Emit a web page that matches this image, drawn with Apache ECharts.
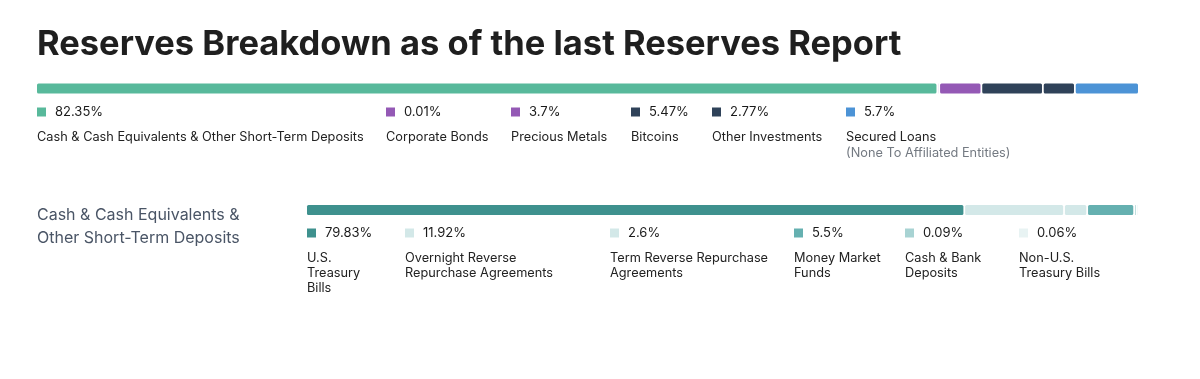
<!DOCTYPE html>
<html>
<head>
<meta charset="utf-8">
<script src="https://cdn.jsdelivr.net/npm/echarts@6/dist/echarts.min.js"></script>
<style>
html,body{margin:0;padding:0;background:#fff;}
#chart{width:1200px;height:379px;}
</style>
</head>
<body>
<div id="chart"></div>
<script>
// ---- data ----
const titleText = 'Reserves Breakdown as of the last Reserves Report';
const topCategories = ['Cash & Cash Equivalents & Other Short-Term Deposits', 'Corporate Bonds', 'Precious Metals', 'Bitcoins', 'Other Investments', 'Secured Loans'];
const topLabels = ['Cash & Cash Equivalents & Other Short-Term Deposits', 'Corporate Bonds', 'Precious Metals', 'Bitcoins', 'Other Investments', 'Secured Loans'];
const topSubLabels = ['', '', '', '', '', '(None To Affiliated Entities)'];
const topValues = [82.35, 0.01, 3.7, 5.47, 2.77, 5.7];

const subTitle = 'Cash & Cash Equivalents &\nOther Short-Term Deposits';
const subCategories = ['U.S. Treasury Bills', 'Overnight Reverse Repurchase Agreements', 'Term Reverse Repurchase Agreements', 'Money Market Funds', 'Cash & Bank Deposits', 'Non-U.S. Treasury Bills'];
const subLabels = ['U.S.\nTreasury\nBills', 'Overnight Reverse\nRepurchase Agreements', 'Term Reverse Repurchase\nAgreements', 'Money Market\nFunds', 'Cash & Bank\nDeposits', 'Non-U.S.\nTreasury Bills'];
const subValues = [79.83, 11.92, 2.6, 5.5, 0.09, 0.06];

// ---- styles / layout ----
const topColors = ['#58b99b', '#9459b5', '#9459b5', '#2f4259', '#2f4259', '#4c93d6'];
const subColors = ['#3e918e', '#d3e8e8', '#d3e8e8', '#65b0b0', '#a8d3d3', '#e8f3f3'];
const topLegendX = [37, 386, 511, 631, 712, 846];
const subLegendX = [307, 405, 610, 794, 905, 1019];
const FONT = 'Inter, "Noto Sans", sans-serif';
const BAR_H = 10, GAP = 1.75;

const chart = echarts.init(document.getElementById('chart'), null, {renderer: 'canvas'});

function sum(a){return a.reduce((s,v)=>s+v,0);}

// each segment is shifted right by the gaps that precede it
function makeRender(idx){
  return function(params, api){
    const p0 = api.coord([api.value(0), 0]);
    const p1 = api.coord([api.value(1), 0]);
    const w = Math.max(p1[0] - p0[0], 0);
    return {
      type: 'rect',
      shape: {x: p0[0] + idx * GAP, y: p0[1] - BAR_H / 2, width: w, height: BAR_H, r: 1.5},
      style: {fill: api.visual('color')}
    };
  };
}

function segSeries(cats, vals, colors, axisIdx){
  let acc = 0;
  return cats.map((c,i)=>{
    const start = acc; acc += vals[i];
    return {
      name: c,
      type: 'custom',
      xAxisIndex: axisIdx,
      yAxisIndex: axisIdx,
      renderItem: makeRender(i),
      encode: {x: [0, 1], y: 2},
      data: [[start, acc, 0]],
      itemStyle: {color: colors[i]},
      silent: true
    };
  });
}

const legendText = {fontFamily: FONT, fontSize: 13, color: '#1a1a1a', padding: [0,0,0,4], lineHeight: 14};
const legends = [];
topCategories.forEach((c,i)=>{
  legends.push({
    data: [c], left: topLegendX[i], top: 105, padding: 0,
    icon: 'rect', itemWidth: 9, itemHeight: 9, selectedMode: false,
    itemStyle: {borderWidth: 0, color: topColors[i]},
    formatter: () => topValues[i] + '%',
    textStyle: legendText
  });
});
subCategories.forEach((c,i)=>{
  legends.push({
    data: [c], left: subLegendX[i], top: 226, padding: 0,
    icon: 'rect', itemWidth: 9, itemHeight: 9, selectedMode: false,
    itemStyle: {borderWidth: 0, color: subColors[i]},
    formatter: () => subValues[i] + '%',
    textStyle: legendText
  });
});

const graphics = [
  {type: 'text', left: 37, top: 27, style: {text: titleText, font: 'bold 34.5px ' + FONT, fill: '#1f1f1f'}},
  {type: 'text', left: 37, top: 204, style: {text: subTitle, font: '16px ' + FONT, fill: '#4a5566', lineHeight: 23}}
];
topLabels.forEach((t,i)=>{
  graphics.push({type: 'text', left: topLegendX[i], top: 129, style: {text: t, font: '12.75px ' + FONT, fill: '#222222', lineHeight: 16}});
  if (topSubLabels[i]) {
    graphics.push({type: 'text', left: topLegendX[i], top: 145, style: {text: topSubLabels[i], font: '12.75px ' + FONT, fill: '#747a82', lineHeight: 16}});
  }
});
subLabels.forEach((t,i)=>{
  graphics.push({type: 'text', left: subLegendX[i], top: 250.5, style: {text: t, font: '12.75px ' + FONT, fill: '#222222', lineHeight: 15}});
});

const gapTotal = 5 * GAP;
const option = {
  animation: false,
  backgroundColor: '#ffffff',
  grid: [
    {left: 37, right: 62 + gapTotal, top: 78.5, height: 20},
    {left: 307, right: 62 + gapTotal, top: 200, height: 20}
  ],
  xAxis: [
    {gridIndex: 0, type: 'value', min: 0, max: sum(topValues), show: false},
    {gridIndex: 1, type: 'value', min: 0, max: sum(subValues), show: false}
  ],
  yAxis: [
    {gridIndex: 0, type: 'category', data: ['Reserves'], show: false},
    {gridIndex: 1, type: 'category', data: ['Cash'], show: false}
  ],
  legend: legends,
  series: [...segSeries(topCategories, topValues, topColors, 0), ...segSeries(subCategories, subValues, subColors, 1)],
  graphic: graphics
};
chart.setOption(option);
</script>
</body>
</html>
